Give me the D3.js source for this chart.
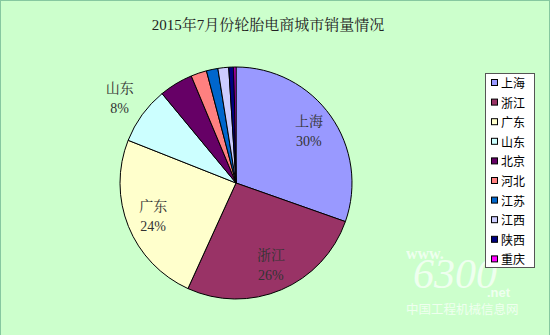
<!DOCTYPE html>
<html><head><meta charset="utf-8">
<script src="https://cdn.jsdelivr.net/npm/d3@7"></script>
<style>html,body{margin:0;padding:0;background:#ccffcc;}svg{display:block;}</style>
</head><body>
<script>
const title = "2015年7月份轮胎电商城市销量情况";
const cities = ["上海","浙江","广东","山东","北京","河北","江苏","江西","陕西","重庆"];
const shares = [30.4, 26.4, 24.2, 8.0, 4.7, 2.2, 1.6, 1.5, 0.7, 0.3];
const colors = ["#9999ff","#993366","#ffffcc","#ccffff","#660066","#ff8080","#0066cc","#ccccff","#000080","#ff00ff"];
const labelled = ["上海","浙江","广东","山东"];

const W = 550, H = 335;
const svg = d3.select("body").append("svg").attr("width", W).attr("height", H);
svg.append("rect").attr("x",0.5).attr("y",0.5).attr("width",W-1).attr("height",H).attr("fill","#ccffcc").attr("stroke","#86c8a0");

const serif = "'Liberation Serif','DejaVu Serif','Noto Serif CJK SC','Noto Sans CJK SC',serif";

svg.append("text").attr("x",268).attr("y",30).attr("text-anchor","middle")
  .attr("font-family",serif).attr("font-size",15).attr("fill","#222").text(title);

// watermark
const wm = svg.append("g").attr("fill","#ffffff").attr("opacity",0.7);
wm.append("text").attr("x",406).attr("y",259).attr("font-family",serif).attr("font-size",16).attr("font-weight","bold").text("www.");
wm.append("text").attr("x",413).attr("y",288).attr("font-family",serif).attr("font-size",42).attr("font-style","italic").text("6300");
wm.append("text").attr("x",487).attr("y",297).attr("font-family","'Liberation Sans',sans-serif").attr("font-size",13).attr("font-weight","bold").text(".net");
wm.append("text").attr("x",406).attr("y",314).attr("font-family","'Noto Sans CJK SC',sans-serif").attr("font-size",12.5).text("中国工程机械信息网");

const cx = 236, cy = 183, r = 116;
const data = cities.map((c,i)=>({city:c, value:shares[i], color:colors[i]}));
const pie = d3.pie().value(d=>d.value).sort(null);
const arcs = pie(data);
const arc = d3.arc().innerRadius(0).outerRadius(r);
const g = svg.append("g").attr("transform",`translate(${cx},${cy})`);
g.selectAll("path").data(arcs).join("path")
  .attr("d",arc).attr("fill",d=>d.data.color).attr("stroke","#000").attr("stroke-width",1).attr("stroke-linejoin","round");

const total = d3.sum(shares);
const labelArc = d3.arc().innerRadius(r*0.77).outerRadius(r*0.77);
const labelOuter = d3.arc().innerRadius(r*1.24).outerRadius(r*1.24);
arcs.filter(d=>labelled.includes(d.data.city)).forEach(d=>{
  const outside = d.data.city==="山东";
  const [x,y] = (outside?labelOuter:labelArc).centroid(d);
  const t = g.append("text").attr("text-anchor","middle").attr("font-family",serif).attr("font-size",14).attr("fill","#333");
  t.append("tspan").attr("x",x).attr("y",y-5).text(d.data.city);
  t.append("tspan").attr("x",x).attr("y",y+15).text(Math.round(d.data.value/total*100)+"%");
});

// legend
const lx = 485, ly = 73, lw = 49, lh = 194;
svg.append("rect").attr("x",lx+0.5).attr("y",ly+0.5).attr("width",lw).attr("height",lh).attr("fill","#fff").attr("stroke","#555");
const step = 19.6;
const items = svg.append("g").selectAll("g").data(data).join("g")
  .attr("transform",(d,i)=>`translate(${lx+6},${ly+10+i*step})`);
items.append("rect").attr("x",0.5).attr("y",-3.5).attr("width",6).attr("height",6).attr("fill",d=>d.color).attr("stroke","#000");
items.append("text").attr("x",10).attr("y",5).attr("font-family","'Noto Sans CJK SC',sans-serif").attr("font-size",12).attr("fill","#000").text(d=>d.city);
</script>
</body></html>
